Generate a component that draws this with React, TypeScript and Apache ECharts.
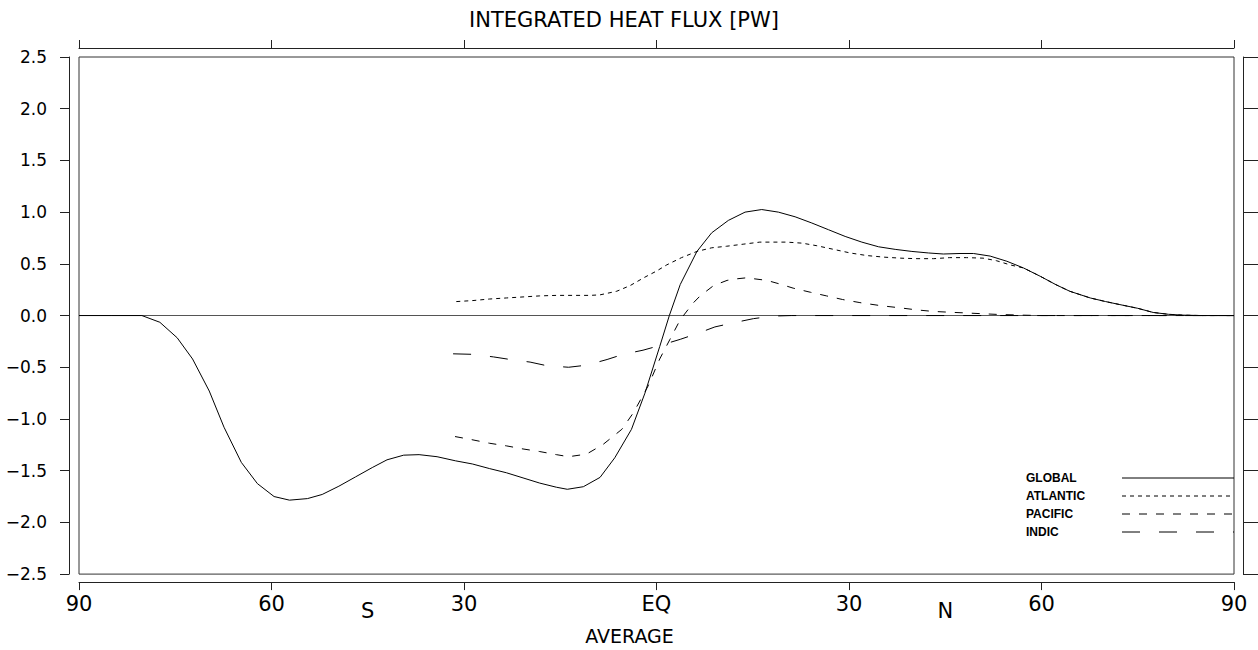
import React, { useEffect, useRef } from "react";
import * as echarts from "echarts";

const titleText = "INTEGRATED HEAT FLUX [PW]";
const xAxisName = "AVERAGE";
const seriesNames = ["GLOBAL", "ATLANTIC", "PACIFIC", "INDIC"];
const xTickValues = [-90, -60, -30, 0, 30, 60, 90];
const xLabelValues = [-90, -60, -45, -30, 0, 30, 45, 60, 90];

const globalData: [number, number][] = [
  [-90, 0], [-85, 0], [-80.2, 0], [-77.4, -0.065], [-74.7, -0.215], [-72.3, -0.42],
  [-69.7, -0.73], [-67.4, -1.08], [-64.7, -1.42], [-62.2, -1.625], [-59.6, -1.75],
  [-57.2, -1.785], [-54.4, -1.77], [-52.1, -1.73], [-49.5, -1.65], [-46.9, -1.56],
  [-44.3, -1.47], [-42, -1.395], [-39.4, -1.35], [-37, -1.345], [-34.2, -1.365],
  [-31.3, -1.405], [-28.7, -1.435], [-26, -1.48], [-23.4, -1.52], [-20.8, -1.57],
  [-18.2, -1.62], [-15.6, -1.66], [-13.9, -1.68], [-11.4, -1.655], [-8.8, -1.565],
  [-6.5, -1.375], [-3.9, -1.1], [-1.8, -0.75], [0.5, -0.3], [2.0, 0.0], [3.7, 0.3],
  [6.3, 0.62], [8.6, 0.8], [11.2, 0.92], [13.8, 1.0], [16.4, 1.025], [19.0, 1.0],
  [21.6, 0.955], [24.2, 0.895], [26.8, 0.83], [29.4, 0.765], [32.0, 0.71], [34.6, 0.665],
  [37.2, 0.64], [39.8, 0.62], [42.4, 0.605], [44.7, 0.595], [47.3, 0.6], [49.4, 0.6],
  [52.0, 0.575], [54.6, 0.525], [57.2, 0.46], [59.8, 0.38], [62.2, 0.3], [64.4, 0.235],
  [67.6, 0.17], [70, 0.135], [72.2, 0.106], [75, 0.07], [77.4, 0.03], [79.8, 0.012],
  [82, 0.004], [85, 0], [90, 0],
];

const atlanticData: [number, number][] = [
  [-31.2, 0.135], [-28.6, 0.145], [-26, 0.16], [-23.4, 0.17], [-20.8, 0.18], [-18.2, 0.19],
  [-15.6, 0.195], [-13, 0.195], [-10.4, 0.195], [-8.8, 0.2], [-6.2, 0.235], [-4.1, 0.29],
  [-2.0, 0.365], [0.0, 0.43], [1.6, 0.49], [3.9, 0.56], [6.3, 0.62], [8.6, 0.655],
  [10.9, 0.67], [13.5, 0.69], [16.1, 0.71], [18.2, 0.71], [20.3, 0.71], [22.7, 0.7],
  [25.0, 0.675], [27.6, 0.64], [30.2, 0.605], [32.8, 0.58], [35.4, 0.565], [38, 0.555],
  [40.6, 0.55], [43.2, 0.55], [45.7, 0.56], [48.3, 0.56], [50.9, 0.555], [53, 0.53],
  [55.1, 0.49], [57.2, 0.46], [59.8, 0.38], [62.2, 0.3], [64.4, 0.235], [67.6, 0.17],
  [70, 0.135], [72.2, 0.106], [75, 0.07], [77.4, 0.03], [79.8, 0.012], [82, 0.004],
  [85, 0], [90, 0],
];

const pacificData: [number, number][] = [
  [-31.4, -1.17], [-28.8, -1.2], [-26, -1.235], [-23.4, -1.26], [-20.8, -1.29],
  [-18.2, -1.315], [-15.6, -1.345], [-13.7, -1.365], [-10.9, -1.34], [-8.3, -1.245],
  [-5.4, -1.1], [-3.6, -0.94], [-1.3, -0.68], [0.5, -0.42], [2.1, -0.23], [3.7, -0.04],
  [5.7, 0.12], [6.8, 0.19], [8.9, 0.29], [11, 0.34], [12.5, 0.355], [14, 0.365],
  [17.2, 0.34], [19.5, 0.3], [21.3, 0.265], [24, 0.225], [26.5, 0.19], [29, 0.155],
  [31.7, 0.125], [35, 0.095], [37.9, 0.075], [40.5, 0.055], [43.1, 0.04], [45.7, 0.032],
  [48.3, 0.025], [51, 0.017], [53.5, 0.01], [57, 0.004], [60, 0], [90, 0],
];

const indicData: [number, number][] = [
  [-31.7, -0.37], [-28.6, -0.375], [-25.4, -0.4], [-22.8, -0.425], [-19.7, -0.45],
  [-17.1, -0.485], [-13.7, -0.5], [-10.9, -0.48], [-7.7, -0.425], [-5.2, -0.375],
  [-2.1, -0.335], [0.5, -0.29], [3.7, -0.23], [6.3, -0.175], [9.1, -0.11], [12, -0.07],
  [15.1, -0.03], [18.2, -0.005], [21, 0], [90, 0],
];

const FONT = "DejaVu Sans";
const LEGEND_FONT = "Liberation Sans";

function fmtX(v: number): string {
  if (v === -45) return "{h|S}";
  if (v === 45) return "{h|N}";
  if (v === 0) return "EQ";
  return String(Math.abs(v));
}

export default function App() {
  const ref = useRef<HTMLDivElement>(null);
  useEffect(() => {
    if (!ref.current) return;
    const chart = echarts.init(ref.current, undefined, { renderer: "svg" });
    const lineBase = { type: "line", symbol: "none", smooth: false, silent: true };
    const dataSets = [globalData, atlanticData, pacificData, indicData];
    const dashes: any[] = ["solid", [4, 4], [8, 9], [18, 19]];
    const series: any[] = dataSets.map((d, i) => ({
      ...lineBase,
      name: seriesNames[i],
      data: d,
      z: 5,
      lineStyle: { color: "#000", width: 1, type: dashes[i] },
      itemStyle: { color: "#000" },
    }));
    series[0].markLine = {
      silent: true,
      symbol: "none",
      label: { show: false },
      lineStyle: { color: "#555", width: 1, type: "solid" },
      data: [{ yAxis: 0 }],
      z: 1,
    };
    const axisColor = "#222";
    chart.setOption({
      animation: false,
      backgroundColor: "#fff",
      title: {
        text: titleText,
        left: 464,
        top: 4,
        textStyle: { fontFamily: FONT, fontSize: 21, fontWeight: "normal", color: "#000" },
      },
      legend: {
        show: true,
        orient: "vertical",
        align: "right",
        left: 1021,
        top: 467,
        itemWidth: 112,
        itemHeight: 12,
        itemGap: 6,
        selectedMode: false,
        itemStyle: { opacity: 0 },
        lineStyle: { width: 1 },
        formatter: "{n|{name}}",
        textStyle: {
          rich: {
            n: {
              width: 91,
              height: 12,
              lineHeight: 12,
              align: "left",
              fontFamily: LEGEND_FONT,
              fontWeight: "bold",
              fontSize: 12,
              color: "#000",
            },
          },
        },
        data: seriesNames,
      },
      grid: {
        left: 79,
        right: 24,
        top: 57,
        bottom: 75,
        show: true,
        borderColor: "#333",
        borderWidth: 1,
        backgroundColor: "transparent",
      },
      xAxis: [
        {
          type: "value",
          position: "bottom",
          min: -90,
          max: 90,
          interval: 30,
          offset: 8,
          name: xAxisName,
          nameLocation: "middle",
          nameGap: 42,
          nameTextStyle: { fontFamily: FONT, fontSize: 19, color: "#000", padding: [0, 54, 0, 0] },
          axisLine: { show: true, onZero: false, lineStyle: { color: axisColor, width: 1 } },
          axisTick: {
            show: true,
            inside: false,
            length: 8,
            customValues: xTickValues,
            lineStyle: { color: axisColor },
          },
          axisLabel: {
            show: true,
            customValues: xLabelValues,
            margin: 11,
            fontFamily: FONT,
            fontSize: 21,
            color: "#000",
            formatter: fmtX,
            rich: { h: { fontFamily: FONT, fontSize: 21, color: "#000", padding: [7, 0, 0, 0] } },
          },
          splitLine: { show: false },
        },
        {
          type: "value",
          position: "top",
          min: -90,
          max: 90,
          interval: 30,
          offset: 9,
          axisLine: { show: true, onZero: false, lineStyle: { color: axisColor, width: 1 } },
          axisTick: { show: true, inside: false, length: 8, lineStyle: { color: axisColor } },
          axisLabel: { show: false },
          splitLine: { show: false },
        },
      ],
      yAxis: [
        {
          type: "value",
          position: "left",
          min: -2.5,
          max: 2.5,
          interval: 0.5,
          offset: 10,
          axisLine: { show: true, onZero: false, lineStyle: { color: axisColor, width: 1 } },
          axisTick: { show: true, inside: false, length: 9, lineStyle: { color: axisColor } },
          axisLabel: {
            show: true,
            margin: 22,
            fontFamily: FONT,
            fontSize: 17,
            color: "#000",
            formatter: (v: number) => v.toFixed(1).replace("-", "\u2212"),
          },
          splitLine: { show: false },
        },
        {
          type: "value",
          position: "right",
          min: -2.5,
          max: 2.5,
          interval: 0.5,
          offset: 9,
          axisLine: { show: true, onZero: false, lineStyle: { color: axisColor, width: 1 } },
          axisTick: { show: true, inside: false, length: 16, lineStyle: { color: axisColor } },
          axisLabel: { show: false },
          splitLine: { show: false },
        },
      ],
      series,
    });
    return () => chart.dispose();
  }, []);
  return (
    <div
      ref={ref}
      style={{ position: "fixed", left: 0, top: 0, width: 1258, height: 650, background: "#fff" }}
    />
  );
}
